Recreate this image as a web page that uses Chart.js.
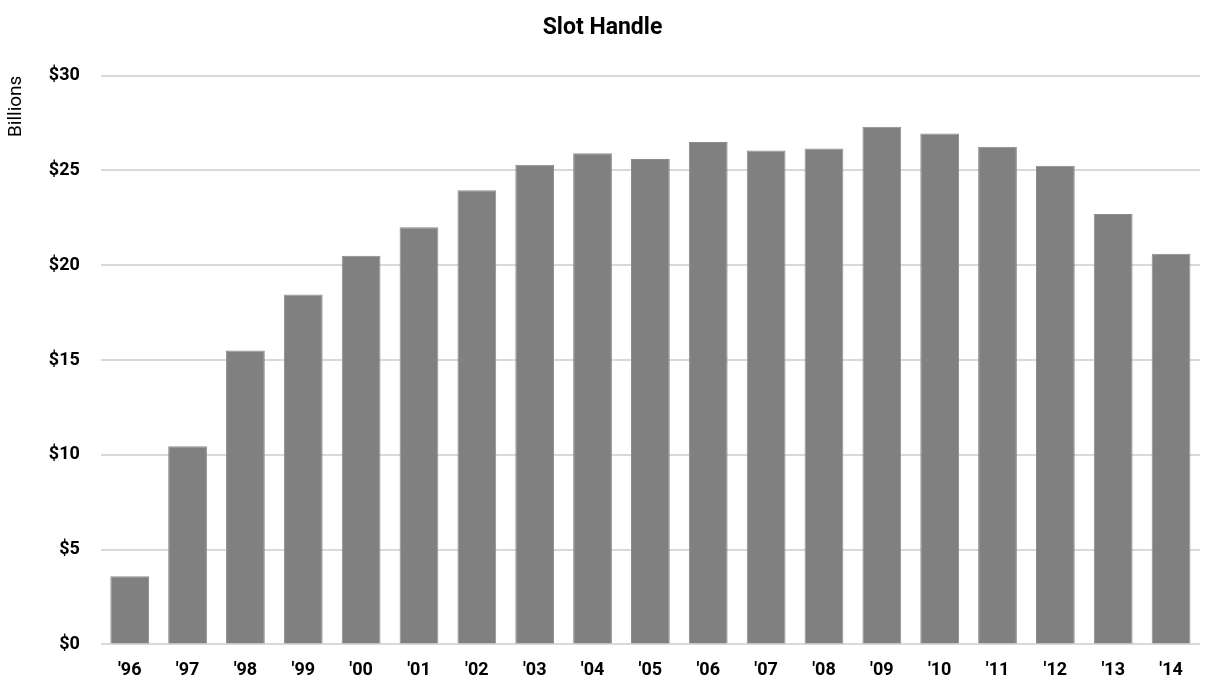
<!DOCTYPE html>
<html>
<head>
<meta charset="utf-8">
<script src="https://cdn.jsdelivr.net/npm/chart.js@4.4.1/dist/chart.umd.min.js"></script>
<style>
  html, body { margin: 0; padding: 0; background: #fff; }
  #wrap { width: 1212px; height: 690px; }
</style>
</head>
<body>
<div id="wrap"><canvas id="slotChart"></canvas></div>
<script>
const years = ["'96", "'97", "'98", "'99", "'00", "'01", "'02", "'03", "'04", "'05",
               "'06", "'07", "'08", "'09", "'10", "'11", "'12", "'13", "'14"];
const slotHandle = [3.6, 10.45, 15.5, 18.45, 20.5, 22.0, 23.95, 25.3, 25.9, 25.6,
                    26.5, 26.05, 26.15, 27.3, 26.95, 26.25, 25.25, 22.7, 20.6];
const yTicks = [0, 5, 10, 15, 20, 25, 30];

const fontFamily = "Roboto, 'Liberation Sans', sans-serif";

document.addEventListener('DOMContentLoaded', () => {
  const ctx = document.getElementById('slotChart');
  new Chart(ctx, {
    type: 'bar',
    data: {
      labels: years,
      datasets: [{
        label: 'Slot Handle',
        data: slotHandle,
        backgroundColor: '#808080',
        borderColor: '#8c8c8c',
        borderWidth: 1,
        categoryPercentage: 1.0,
        barPercentage: 0.67
      }]
    },
    options: {
      responsive: true,
      maintainAspectRatio: false,
      animation: false,
      layout: { padding: { top: 4, right: 12, left: 5, bottom: -6 } },
      plugins: {
        legend: { display: false },
        tooltip: { enabled: false },
        title: {
          display: true,
          text: 'Slot Handle',
          color: '#000',
          font: { family: fontFamily, size: 23, weight: 'bold' },
          padding: { top: 10, bottom: 34 }
        }
      },
      scales: {
        x: {
          grid: { display: false, drawTicks: false },
          border: { display: false },
          ticks: {
            color: '#000',
            padding: 15,
            font: { family: fontFamily, size: 18, weight: 'bold' }
          }
        },
        y: {
          min: 0,
          max: 30,
          afterBuildTicks: (axis) => { axis.ticks = yTicks.map(v => ({ value: v })); },
          grid: { color: '#d9d9d9', lineWidth: 2, drawTicks: false },
          border: { display: false },
          title: {
            display: true,
            text: 'Billions',
            align: 'end',
            color: '#000',
            padding: { top: 0, bottom: 0 },
            font: { family: fontFamily, size: 19 }
          },
          ticks: {
            color: '#000',
            padding: 21,
            font: { family: fontFamily, size: 18, weight: 'bold' },
            callback: (v) => '$' + v
          }
        }
      }
    }
  });
});
</script>
</body>
</html>
